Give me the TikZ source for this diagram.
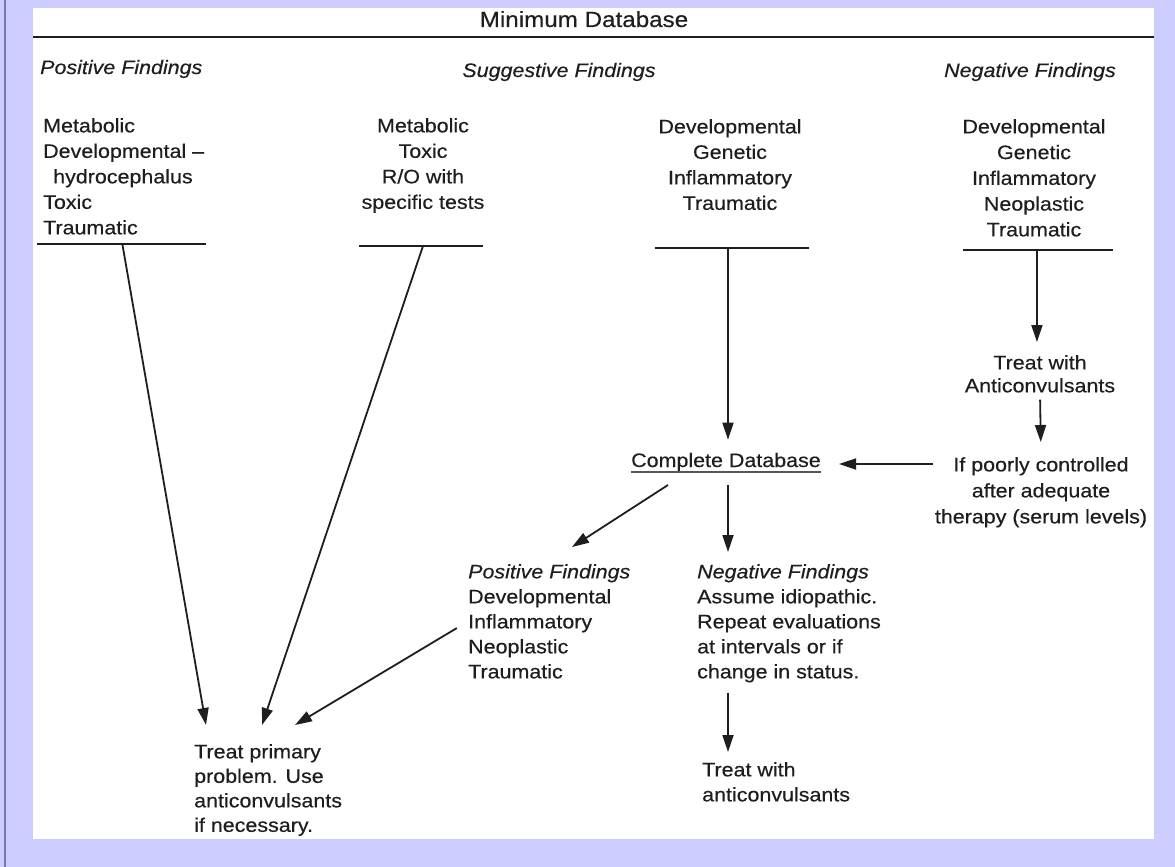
\documentclass[tikz,border=0pt]{standalone}
\usepackage{fontspec}
\setmainfont{Liberation Sans}[FakeStretch=1.1,FakeBold=0.35]
\usepackage{xcolor}
\usetikzlibrary{arrows.meta,positioning}
\definecolor{lavender}{HTML}{CCCCFF}
\definecolor{frameline}{HTML}{7A7AA8}
\definecolor{ink}{HTML}{1E1E1E}
\tikzset{
  txt/.style={inner sep=0pt, text=ink, font=\fontsize{19.5}{25.5}\selectfont},
  hdr/.style={inner sep=0pt, text=ink, font=\fontsize{19.5}{25.5}\selectfont\itshape},
  rule/.style={ink, line width=1.9pt},
  flow/.style={ink, line width=1.8pt, -{Triangle[length=17pt,width=11pt]}},
}

\begin{document}
\begin{tikzpicture}[x=1pt,y=-1pt]
\useasboundingbox (0,0) rectangle (1175,867);

% BACKGROUND
  \fill[lavender] (0,0) rectangle (1175,867);
  \fill[white] (33,8) rectangle (1154,839);
  \draw[frameline, line width=2pt] (5,0) -- (5,867);

% TITLE
  \node[txt, font=\fontsize{22}{26}\selectfont, anchor=base] (title) at (584,27) {Minimum Database};
  \draw[ink, line width=2.4pt] (33,37) -- (1154,37);

% HEADINGS
  \node[hdr, anchor=base west] (hdpos) at (40,74)  {Positive Findings};
  \node[hdr, anchor=base]      (hdsug) at (559,77) {Suggestive Findings};
  \node[hdr, anchor=base]      (hdneg) at (1030,77) {Negative Findings};

% FIRST ROW
  \node[txt, anchor=north west, align=left] (posA) at (43,118)
    {Metabolic\\Developmental --\\\hspace*{10pt}hydrocephalus\\Toxic\\Traumatic};
  \node[txt, anchor=north, align=center] (sugA) at (423,118)
    {Metabolic\\Toxic\\R/O with\\specific tests};
  \node[txt, anchor=north, align=center] (sugB) at (730,119)
    {Developmental\\Genetic\\Inflammatory\\Traumatic};
  \node[txt, anchor=north, align=center, font=\fontsize{19.5}{25.75}\selectfont] (negA) at (1034,119)
    {Developmental\\Genetic\\Inflammatory\\Neoplastic\\Traumatic};

% rules under the first row
  \draw[rule] (37,244) -- coordinate[pos=0.505] (ruleA) (206,244);
  \draw[rule] (359,246) -- coordinate[pos=0.516] (ruleB) (483,246);
  \draw[rule] (655,248) -- coordinate[pos=0.474] (ruleC) (809,248);
  \draw[rule] (963,250) -- coordinate[pos=0.493] (ruleD) (1113,250);

% RIGHT BRANCH
  \node[txt, anchor=north, align=center, font=\fontsize{19.5}{23}\selectfont] (treatA) at (1040,355)
    {Treat with\\Anticonvulsants};
  \node[txt, anchor=north, align=center, font=\fontsize{19.5}{26}\selectfont] (poorly) at (1041,457)
    {If poorly controlled\\after adequate\\therapy (serum levels)};
  \node[txt, anchor=base] (complete) at (726,467) {Complete Database};
  \draw[ink!75, line width=1.2pt] ([yshift=-5pt]complete.base west) -- ([yshift=-5pt]complete.base east);

% SECOND ROW
  \node[txt, anchor=north west, align=left, font=\fontsize{19.5}{25}\selectfont] (posB) at (468,564)
    {\textit{Positive Findings}\\Developmental\\Inflammatory\\Neoplastic\\Traumatic};
  \node[txt, anchor=north west, align=left, font=\fontsize{19.5}{25}\selectfont] (negB) at (697,564)
    {\textit{Negative Findings}\\Assume idiopathic.\\Repeat evaluations\\at intervals or if\\change in status.};

% OUTCOMES
  \node[txt, anchor=north west, align=left, font=\fontsize{19.5}{24.5}\selectfont] (primary) at (194,744)
    {Treat primary\\problem. Use\\anticonvulsants\\if necessary.};
  \node[txt, anchor=north west, align=left, font=\fontsize{19.5}{25}\selectfont] (treatB) at (702,762)
    {Treat with\\anticonvulsants};

% arrow ends
  \coordinate (hitA) at (206,725);
  \coordinate (hitB) at (262,725);
  \coordinate (hitC) at (295,725);
  \coordinate (poorOut) at (933,464);
  \coordinate (cplDown) at (728,485);
  \coordinate (cplLeft) at (668,485);
  \coordinate (hitPos) at (572,547);

% ARROWS
  \draw[flow] (ruleA) -- (hitA);
  \draw[flow] (ruleB) -- (hitB);
  \draw[flow, shorten <=13pt] (posB.west) -- (hitC);
  \draw[flow, shorten >=13pt] (ruleC) -- (ruleC |- complete.north);
  \draw[flow, shorten >=13pt] (ruleD) -- (ruleD |- treatA.north);
  \draw[flow, shorten <=7pt, shorten >=15pt] (treatA.south) -- (poorly.north);
  \draw[flow, shorten >=18pt] (poorOut) -- (poorOut -| complete.east);
  \draw[flow] (cplLeft) -- (hitPos);
  \draw[flow, shorten >=12pt] (cplDown) -- (cplDown |- negB.north);
  \draw[flow, shorten <=10pt, shorten >=10pt] (cplDown |- negB.south) -- (cplDown |- treatB.north);
\end{tikzpicture}
\end{document}
